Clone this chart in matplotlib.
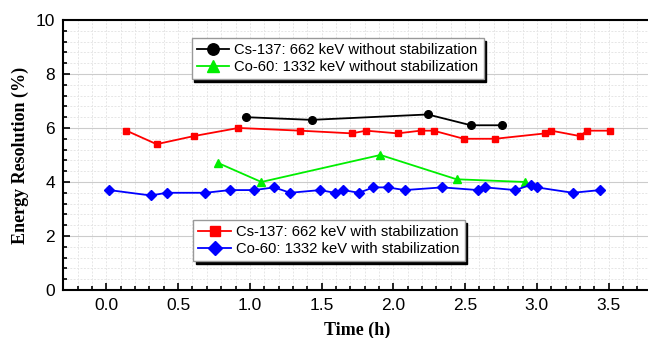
import numpy as np
import matplotlib.pyplot as plt
from matplotlib.ticker import MultipleLocator

# data
t_cs_nostab = [0.97, 1.43, 2.24, 2.54, 2.76]
er_cs_nostab = [6.4, 6.3, 6.5, 6.1, 6.1]

t_co_nostab = [0.78, 1.08, 1.91, 2.44, 2.92]
er_co_nostab = [4.7, 4.0, 5.0, 4.1, 4.0]

t_cs_stab = [0.14, 0.35, 0.61, 0.92, 1.35, 1.71, 1.81, 2.03, 2.19, 2.28,
             2.49, 2.71, 3.06, 3.10, 3.30, 3.35, 3.51]
er_cs_stab = [5.9, 5.4, 5.7, 6.0, 5.9, 5.8, 5.9, 5.8, 5.9, 5.9,
              5.6, 5.6, 5.8, 5.9, 5.7, 5.9, 5.9]

t_co_stab = [0.02, 0.31, 0.42, 0.69, 0.86, 1.03, 1.17, 1.28, 1.49, 1.59,
             1.65, 1.76, 1.86, 1.96, 2.08, 2.34, 2.59, 2.64, 2.85, 2.96,
             3.00, 3.25, 3.44]
er_co_stab = [3.7, 3.5, 3.6, 3.6, 3.7, 3.7, 3.8, 3.6, 3.7, 3.6,
              3.7, 3.6, 3.8, 3.8, 3.7, 3.8, 3.7, 3.8, 3.7, 3.9,
              3.8, 3.6, 3.7]

fig = plt.figure(figsize=(6.48, 3.38), dpi=100)
ax = fig.add_axes([0.0977, 0.142, 0.908, 0.799])

sans = ['Liberation Sans', 'DejaVu Sans']
serif = ['Liberation Serif', 'DejaVu Serif']

l1, = ax.plot(t_cs_nostab, er_cs_nostab, '-o', color='black', lw=1.3, ms=5.5,
              label='Cs-137: 662 keV without stabilization')
l2, = ax.plot(t_co_nostab, er_co_nostab, '-^', color='#00ee00', lw=1.3, ms=6,
              label='Co-60: 1332 keV without stabilization')
l3, = ax.plot(t_cs_stab, er_cs_stab, '-s', color='#ff0000', lw=1.3, ms=5,
              label='Cs-137: 662 keV with stabilization')
l4, = ax.plot(t_co_stab, er_co_stab, '-D', color='#0000ff', lw=1.3, ms=5,
              label='Co-60: 1332 keV with stabilization')

ax.set_xlim(-0.3, 3.8)
ax.set_ylim(0, 10)
ax.xaxis.set_major_locator(MultipleLocator(0.5))
ax.xaxis.set_minor_locator(MultipleLocator(0.1))
ax.yaxis.set_major_locator(MultipleLocator(2))
ax.yaxis.set_minor_locator(MultipleLocator(0.4))
ax.xaxis.set_major_formatter(plt.FormatStrFormatter('%.1f'))

ax.tick_params(which='both', direction='in', top=False, right=False, width=1.2)
ax.tick_params(which='major', length=5, labelsize=12.5, pad=6)
ax.tick_params(which='minor', length=3)
for lab in ax.get_xticklabels() + ax.get_yticklabels():
    lab.set_family(sans)

ax.grid(which='minor', color='#e6e6e6', lw=0.7, ls=(0, (2, 1.5)))
ax.grid(which='major', axis='y', color='#cccccc', lw=0.8, ls='-')
ax.grid(which='major', axis='x', color='#e6e6e6', lw=0.7, ls=(0, (2, 1.5)))
ax.set_axisbelow(True)

for s in ['left', 'bottom', 'top']:
    ax.spines[s].set_linewidth(1.5)
ax.spines['right'].set_visible(False)

ax.set_xlabel('Time (h)', family=serif, fontweight='bold', fontsize=13, labelpad=6)
ax.set_ylabel('Energy Resolution (%)', family=serif, fontweight='bold', fontsize=13, labelpad=5)

leg_kw = dict(loc='upper left', frameon=True, fancybox=False, framealpha=1,
              edgecolor='#999999', shadow={'color': 'black', 'alpha': 1},
              prop={'family': sans, 'size': 10.6}, handlelength=2.2,
              handletextpad=0.35, labelspacing=0.2, borderpad=0.35,
              borderaxespad=0, markerscale=1.5)
leg1 = ax.legend(handles=[l1, l2], bbox_to_anchor=(0.218, 0.934), **leg_kw)
ax.add_artist(leg1)
leg2 = ax.legend(handles=[l3, l4], bbox_to_anchor=(0.221, 0.259), **leg_kw)

fig.savefig('out.png', dpi=100)
